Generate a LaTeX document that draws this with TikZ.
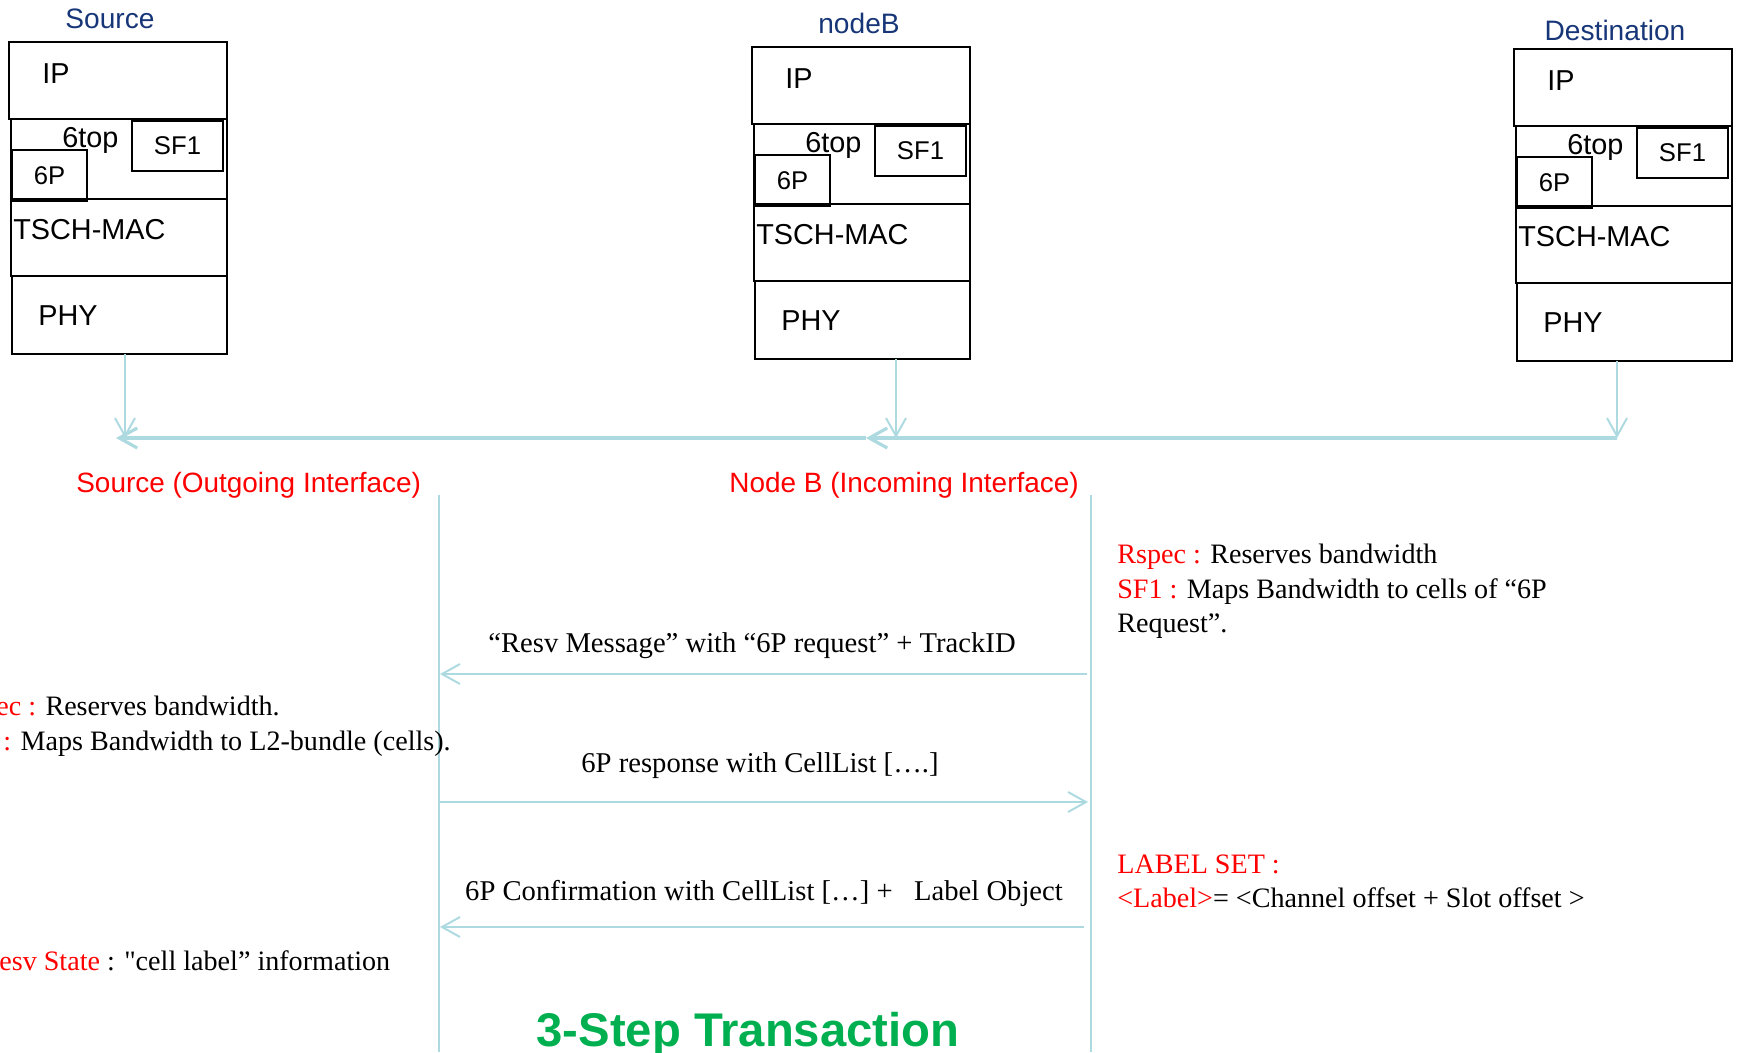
\documentclass[tikz,border=0pt]{standalone}
\usepackage{fontspec}
\setmainfont{Liberation Serif}
\setsansfont{Liberation Sans}
\usetikzlibrary{arrows.meta,positioning}

\definecolor{wirecol}{RGB}{172,218,224}
\definecolor{titlecol}{RGB}{23,54,120}
\definecolor{stepgreen}{RGB}{0,176,80}

% straight double quote, kept out of the TeX ligature mapping
\newcommand\straightquote{{\addfontfeatures{Ligatures=TeXOff}"}}

\tikzset{
  layer/.style={draw,line width=1.1pt,anchor=north west,inner sep=0pt,outer sep=0pt},
  laytxt/.style={font=\sffamily\fontsize{16.4}{19}\selectfont,inner sep=0pt,anchor=base west},
  subtxt/.style={font=\sffamily\fontsize{14.6}{17}\selectfont},
  nodetitle/.style={font=\sffamily\fontsize{16}{18}\selectfont,text=titlecol,inner sep=0pt,anchor=base},
  iface/.style={font=\sffamily\fontsize{15.9}{18}\selectfont,text=red,inner sep=0pt,anchor=base west},
  note/.style={font=\fontsize{16}{19}\selectfont,inner sep=0pt,anchor=base west},
  msgtxt/.style={font=\fontsize{16.3}{19}\selectfont,inner sep=0pt,anchor=base},
  wire/.style={draw=wirecol,line width=1.1pt},
  tip/.style={-{Straight Barb[length=0.36cm,width=0.4cm]}},
}

\begin{document}
\begin{tikzpicture}[x=0.02cm,y=-0.02cm]
\useasboundingbox (0,0) rectangle (1737,1052);

% protocol stacks
\foreach \n/\sx/\sy/\t/\tx/\ty in {src/9/42/Source/110/28, nb/752/47/nodeB/859/33, dst/1514/49/Destination/1615/40}{
  \node[nodetitle] (\n-title) at (\tx,\ty) {\t};
  \node[layer,minimum width=4.36cm,minimum height=1.54cm] (\n-ip) at (\sx,\sy) {};
  \node[layer,minimum width=4.32cm,minimum height=1.6cm] (\n-top) at ({\sx+2},{\sy+77}) {};
  \node[layer,minimum width=4.32cm,minimum height=1.54cm] (\n-mac) at ({\sx+2},{\sy+157}) {};
  \node[layer,minimum width=4.3cm,minimum height=1.56cm] (\n-phy) at ({\sx+3},{\sy+234}) {};
  \node[layer,subtxt,minimum width=1.82cm,minimum height=1cm] (\n-sf) at ({\sx+123},{\sy+79}) {SF1};
  \node[layer,subtxt,minimum width=1.5cm,minimum height=1.02cm] (\n-6p) at ({\sx+3},{\sy+108}) {6P};
  \node[laytxt] (\n-ip-t) at ({\sx+33},{\sy+41}) {IP};
  \node[laytxt] (\n-top-t) at ({\sx+53},{\sy+105}) {6top};
  \node[laytxt] (\n-mac-t) at ({\sx+4},{\sy+197}) {TSCH-MAC};
  \node[laytxt] (\n-phy-t) at ({\sx+29},{\sy+283}) {PHY};
}

% shared medium
\coordinate (srcbus) at (125,438);
\coordinate (nbbus) at (896,438);
\coordinate (dstbus) at (1617,438);
\coordinate (srcend) at (116,438);
\coordinate (nbend) at (866,438);
\draw[wire,tip] (src-phy.south -| srcbus) -- (srcbus);
\draw[wire,tip] (nb-phy.south -| nbbus) -- (nbbus);
\draw[wire,tip] (dst-phy.south -| dstbus) -- (dstbus);
\draw[wire,tip,line width=1.8pt] (dstbus) -- (nbend);
\draw[wire,tip,line width=1.8pt] (nbend) -- (srcend);

% interfaces and lifelines
\node[iface] (srcif) at (76,492) {Source (Outgoing Interface)};
\node[iface] (nbif) at (729,492) {Node B (Incoming Interface)};
\coordinate (srcll) at (439,495);
\coordinate (srcll-end) at (439,1052);
\coordinate (nbll) at (1091,495);
\coordinate (nbll-end) at (1091,1052);
\draw[wire] (srcll) -- (srcll-end);
\draw[wire] (nbll) -- (nbll-end);

% messages
\node[msgtxt] (m1) at (752,652) {“Resv Message” with “6P request” + TrackID};
\node[msgtxt] (m2) at (760,772) {6P response with CellList [….]};
\node[msgtxt] (m3) at (764,900) {6P Confirmation with CellList […] + \ \ Label Object};
\coordinate (a1r) at (1087,674);
\coordinate (a1l) at (440,674);
\coordinate (a2l) at (440,802);
\coordinate (a2r) at (1088,802);
\coordinate (a3r) at (1084,927);
\coordinate (a3l) at (440,927);
\draw[wire,tip] (a1r) -- (a1l);
\draw[wire,tip] (a2l) -- (a2r);
\draw[wire,tip] (a3r) -- (a3l);

% notes at node B
\node[note] (rs1) at (1117,563) {\textcolor{red}{Rspec :} Reserves bandwidth};
\node[note] (rs2) at (1117,598) {\textcolor{red}{SF1 :} Maps Bandwidth to cells of “6P};
\node[note] (rs3) at (1117,632) {Request”.};
\node[note] (lab1) at (1117,873) {\textcolor{red}{LABEL SET :}};
\node[note] (lab2) at (1117,907) {\textcolor{red}{<Label>}= <Channel offset + Slot offset >};

% notes at source
\node[note] (ls1) at (-4,715) {\textcolor{red}{ec :} Reserves bandwidth.};
\node[note] (ls2) at (3,750) {\textcolor{red}{:} Maps Bandwidth to L2-bundle (cells).};
\node[note] (ls3) at (-1,970) {\textcolor{red}{esv State} : \straightquote cell label” information};

\node[font=\sffamily\bfseries\fontsize{26.9}{30}\selectfont,text=stepgreen,inner sep=0pt,anchor=base] (steps) at (748,1046) {3-Step Transaction};
\end{tikzpicture}
\end{document}
